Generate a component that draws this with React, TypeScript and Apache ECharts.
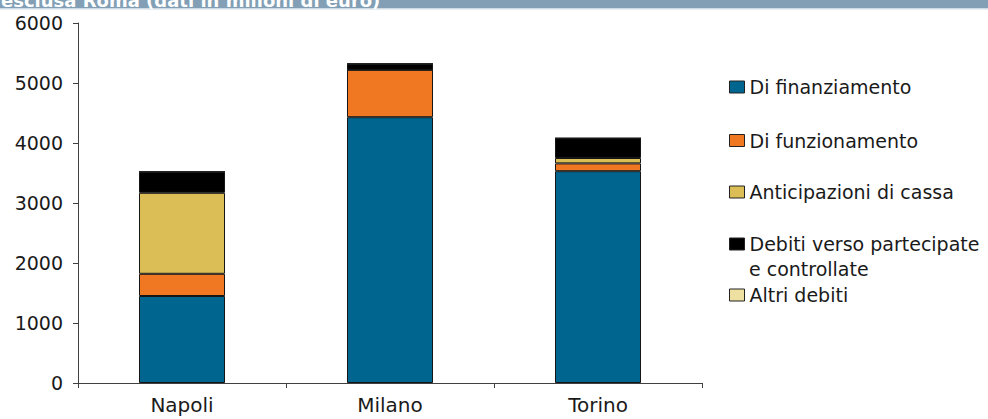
import React, { useEffect, useRef } from "react";
import * as echarts from "echarts";

const categories = ["Napoli", "Milano", "Torino"];
const seriesNames = [
  "Di finanziamento",
  "Di funzionamento",
  "Anticipazioni di cassa",
  "Debiti verso partecipate",
  "Altri debiti",
];
const finanziamento = [1450, 4430, 3530];
const funzionamento = [370, 790, 130];
const anticipazioni = [1350, 0, 90];
const debitiPartecipate = [350, 100, 330];
const altriDebiti = [0, 0, 0];
const yTicks = [0, 1000, 2000, 3000, 4000, 5000, 6000];
const titleText = "esclusa Roma (dati in milioni di euro)";

const colors = ["#006690", "#f07823", "#dbbe55", "#000000", "#eee0a0"];
const legendCenters = [87, 140.5, 192, 244, 295];

export default function App() {
  const ref = useRef<HTMLDivElement>(null);
  useEffect(() => {
    document.body.style.margin = "0";
    if (!ref.current) return;
    const chart = echarts.init(ref.current, undefined, { renderer: "svg" });
    const values = [finanziamento, funzionamento, anticipazioni, debitiPartecipate, altriDebiti];
    const font = "DejaVu Sans";
    chart.setOption({
      animation: false,
      backgroundColor: "#ffffff",
      grid: { left: 78, top: 23, width: 624, height: 360, containLabel: false },
      xAxis: {
        type: "category",
        data: categories,
        boundaryGap: true,
        axisLine: { show: true, lineStyle: { color: "#404040", width: 1 } },
        axisTick: { show: true, length: 5, alignWithLabel: false, lineStyle: { color: "#404040" } },
        axisLabel: { color: "#1a1a1a", fontSize: 20, fontFamily: font, margin: 12 },
      },
      yAxis: {
        type: "value",
        min: yTicks[0],
        max: yTicks[yTicks.length - 1],
        interval: 1000,
        axisLine: { show: true, lineStyle: { color: "#404040", width: 1 } },
        axisTick: { show: true, length: 5, lineStyle: { color: "#404040" } },
        axisLabel: {
          color: "#1a1a1a",
          fontSize: 19,
          fontFamily: font,
          margin: 15,
          formatter: (v: number) => String(v),
        },
        splitLine: { show: false },
      },
      legend: seriesNames.map((n, i) => ({
        data: [n],
        left: 729,
        top: legendCenters[i] - 11,
        orient: "vertical",
        padding: 0,
        itemWidth: 15,
        itemHeight: 12,
        itemGap: 0,
        selectedMode: false,
        icon: "rect",
        itemStyle: { borderColor: "#222", borderWidth: 1 },
        textStyle: { color: "#1a1a1a", fontSize: 19, fontFamily: font, lineHeight: 22 },
      })),
      series: seriesNames.map((n, i) => ({
        name: n,
        type: "bar",
        stack: "total",
        barWidth: 86,
        data: values[i],
        itemStyle: { color: colors[i], borderColor: "#151515", borderWidth: 1 },
      })),
      graphic: [
        { type: "rect", shape: { x: 0, y: 0, width: 988, height: 8 }, style: { fill: "#829fb5" } },
        { type: "rect", shape: { x: 0, y: 8, width: 988, height: 1.5 }, style: { fill: "#cfdbe4" } },
        {
          type: "text",
          x: 1,
          y: 9,
          style: {
            text: titleText,
            fill: "#ffffff",
            font: "bold 18px 'DejaVu Sans'",
            verticalAlign: "bottom",
            align: "left",
          },
        },
        {
          type: "text",
          x: 749,
          y: 269,
          style: {
            text: "e controllate",
            fill: "#1a1a1a",
            font: "19px 'DejaVu Sans'",
            verticalAlign: "middle",
            align: "left",
          },
        },
      ],
    });
    return () => chart.dispose();
  }, []);
  return <div ref={ref} style={{ width: 988, height: 419 }} />;
}
